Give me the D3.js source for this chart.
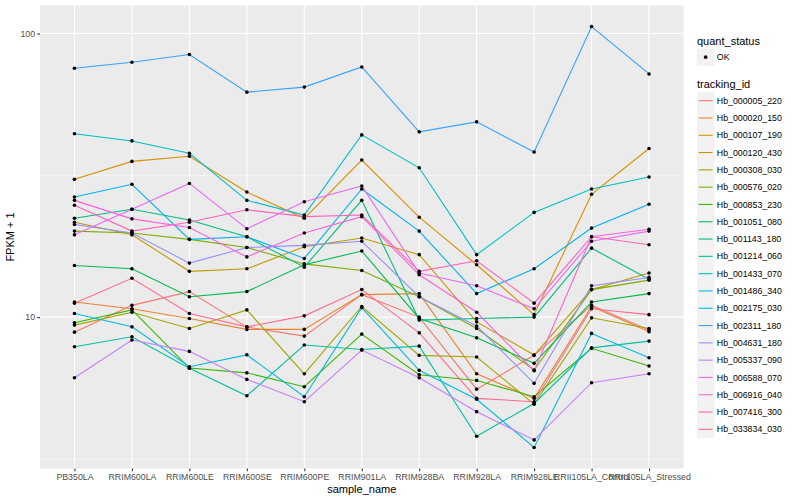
<!DOCTYPE html>
<html>
<head>
<meta charset="utf-8">
<script src="https://cdn.jsdelivr.net/npm/d3@7/dist/d3.min.js"></script>
<style>
  body { margin: 0; background: #fff; }
  text { font-family: "Liberation Sans", Arial, Helvetica, sans-serif; }
</style>
</head>
<body>
<div id="chart"></div>
<script>
var samples = ["PB350LA", "RRIM600LA", "RRIM600LE", "RRIM600SE", "RRIM600PE",
  "RRIM901LA", "RRIM928BA", "RRIM928LA", "RRIM928LE", "RRII105LA_Control", "RRII105LA_Stressed"];

var trackingIds = ["Hb_000005_220", "Hb_000020_150", "Hb_000107_190", "Hb_000120_430",
  "Hb_000308_030", "Hb_000576_020", "Hb_000853_230", "Hb_001051_080", "Hb_001143_180",
  "Hb_001214_060", "Hb_001433_070", "Hb_001486_340", "Hb_002175_030", "Hb_002311_180",
  "Hb_004631_180", "Hb_005337_090", "Hb_006588_070", "Hb_006916_040", "Hb_007416_300",
  "Hb_033834_030"];

// FPKM + 1, one array per tracking id, in sample order
var hb000005_220 = [8.85, 11.0, 12.3, 9.22, 8.57, 12.0, 10.0, 5.57, 7.33, 11.0, 9.00];
var hb000020_150 = [11.3, 10.7, 9.89, 9.05, 9.05, 12.0, 12.1, 6.31, 5.17, 10.9, 8.88];
var hb000107_190 = [30.6, 35.4, 36.9, 27.6, 22.3, 35.8, 22.5, 15.3, 10.2, 27.1, 39.3];
var hb000120_430 = [21.6, 19.5, 14.5, 14.8, 17.7, 19.0, 16.6, 9.62, 7.35, 12.5, 14.3];
var hb000308_030 = [9.37, 10.4, 9.12, 10.6, 6.31, 10.9, 7.33, 7.23, 4.93, 9.94, 9.12];
var hb000576_020 = [20.1, 19.8, 18.8, 17.6, 15.4, 14.6, 11.8, 9.12, 6.51, 12.5, 13.5];
var hb000853_230 = [9.55, 10.6, 6.61, 6.36, 5.68, 8.71, 6.26, 5.98, 5.24, 7.76, 6.72];
var hb001051_080 = [15.2, 14.8, 11.8, 12.3, 15.3, 17.1, 9.89, 8.45, 6.87, 11.3, 12.1];
var hb001143_180 = [22.3, 24.0, 22.0, 19.2, 15.0, 25.8, 9.76, 9.89, 10.0, 17.5, 13.6];
var hb001214_060 = [7.86, 8.52, 6.60, 5.28, 7.97, 7.69, 7.90, 3.80, 4.96, 7.79, 8.23];
var hb001433_070 = [44.3, 41.8, 37.8, 25.8, 22.9, 43.9, 33.6, 16.6, 23.4, 28.3, 31.2];
var hb001486_340 = [10.3, 9.24, 6.68, 7.36, 5.24, 10.8, 6.49, 5.13, 3.47, 8.76, 7.19];
var hb002175_030 = [26.5, 29.4, 18.8, 19.2, 16.1, 28.3, 20.1, 12.1, 14.8, 20.6, 25.0];
var hb002311_180 = [75.4, 79.2, 84.3, 62.1, 64.7, 76.2, 45.0, 48.8, 38.2, 105.8, 72.0];
var hb004631_180 = [21.2, 19.8, 15.5, 17.6, 17.9, 18.5, 11.8, 9.30, 5.84, 12.9, 13.8];
var hb005337_090 = [6.11, 8.30, 7.57, 6.03, 5.03, 7.65, 6.11, 4.64, 3.69, 5.87, 6.31];
var hb006588_070 = [19.5, 24.0, 29.6, 20.5, 25.5, 29.0, 14.3, 12.9, 10.7, 18.5, 20.1];
var hb006916_040 = [25.8, 22.2, 20.7, 16.3, 19.8, 22.6, 14.1, 10.4, 6.47, 19.2, 20.4];
var hb007416_300 = [24.8, 20.1, 21.6, 23.9, 22.6, 22.9, 14.5, 15.8, 11.2, 19.2, 18.0];
var hb033834_030 = [11.2, 13.7, 10.3, 9.24, 10.1, 12.5, 8.80, 5.17, 5.03, 10.7, 10.2];

var seriesValues = [hb000005_220, hb000020_150, hb000107_190, hb000120_430, hb000308_030,
  hb000576_020, hb000853_230, hb001051_080, hb001143_180, hb001214_060, hb001433_070,
  hb001486_340, hb002175_030, hb002311_180, hb004631_180, hb005337_090, hb006588_070,
  hb006916_040, hb007416_300, hb033834_030];

var yTicks = [10, 100];
var yMinor = [Math.pow(10, 0.5), Math.pow(10, 1.5)];
var quantStatus = ["OK"];

var colors = ["#F8766D", "#EA8331", "#D89000", "#C09B00", "#A3A500", "#7CAE00", "#39B600",
  "#00BB4E", "#00BF7D", "#00C1A3", "#00BFC4", "#00BAE0", "#00B0F6", "#35A2FF", "#9590FF",
  "#C77CFF", "#E76BF3", "#FA62DB", "#FF62BC", "#FF6C91"];

var W = 800, H = 500;
var panel = {left: 40, right: 683.5, top: 5.5, bottom: 468.5};

var series = trackingIds.map(function(id, i) {
  return {id: id, color: colors[i], values: seriesValues[i].map(function(v, j) {
    return {sample: samples[j], value: v};
  })};
});

var svg = d3.select("#chart").append("svg")
  .attr("width", W)
  .attr("height", H);

svg.append("rect").attr("width", W).attr("height", H).attr("fill", "#fff");

var x = d3.scalePoint()
  .domain(samples)
  .range([panel.left, panel.right])
  .padding(0.6);

var allVals = d3.merge(seriesValues);
var lo = Math.log10(d3.min(allVals)), hi = Math.log10(d3.max(allVals));
var pad = (hi - lo) * 0.05;
var y = d3.scaleLog()
  .domain([Math.pow(10, lo - pad), Math.pow(10, hi + pad)])
  .range([panel.bottom, panel.top]);

// panel background and grid
svg.append("rect")
  .attr("x", panel.left).attr("y", panel.top)
  .attr("width", panel.right - panel.left)
  .attr("height", panel.bottom - panel.top)
  .attr("fill", "#EBEBEB");

var grid = svg.append("g").attr("class", "grid");
grid.selectAll("line.minor")
  .data(yMinor)
  .enter().append("line")
    .attr("class", "minor")
    .attr("x1", panel.left).attr("x2", panel.right)
    .attr("y1", function(d) { return y(d); })
    .attr("y2", function(d) { return y(d); })
    .attr("stroke", "#fff").attr("stroke-width", 0.55);
grid.selectAll("line.majory")
  .data(yTicks)
  .enter().append("line")
    .attr("class", "majory")
    .attr("x1", panel.left).attr("x2", panel.right)
    .attr("y1", function(d) { return y(d); })
    .attr("y2", function(d) { return y(d); })
    .attr("stroke", "#fff").attr("stroke-width", 1.1);
grid.selectAll("line.majorx")
  .data(samples)
  .enter().append("line")
    .attr("class", "majorx")
    .attr("y1", panel.top).attr("y2", panel.bottom)
    .attr("x1", function(d) { return x(d); })
    .attr("x2", function(d) { return x(d); })
    .attr("stroke", "#fff").attr("stroke-width", 1.1);

// lines
var line = d3.line()
  .x(function(d) { return x(d.sample); })
  .y(function(d) { return y(d.value); });

svg.append("g").attr("class", "lines")
  .selectAll("path")
  .data(series)
  .enter().append("path")
    .attr("d", function(d) { return line(d.values); })
    .attr("fill", "none")
    .attr("stroke", function(d) { return d.color; })
    .attr("stroke-width", 1.1);

// points
svg.append("g").attr("class", "points")
  .selectAll("circle")
  .data(d3.merge(series.map(function(s) { return s.values; })))
  .enter().append("circle")
    .attr("cx", function(d) { return x(d.sample); })
    .attr("cy", function(d) { return y(d.value); })
    .attr("r", 1.8)
    .attr("fill", "#000");

// axes
var yAxis = d3.axisLeft(y)
  .tickValues(yTicks)
  .tickFormat(d3.format("d"))
  .tickSize(2.75)
  .tickPadding(2.2);
var gy = svg.append("g")
  .attr("transform", "translate(" + panel.left + ",0)")
  .call(yAxis);

var xAxis = d3.axisBottom(x)
  .tickSize(2.75)
  .tickPadding(2.2);
var gx = svg.append("g")
  .attr("transform", "translate(0," + panel.bottom + ")")
  .call(xAxis);

[gx, gy].forEach(function(g) {
  g.select(".domain").remove();
  g.selectAll(".tick line").attr("stroke", "#333").attr("stroke-width", 1.07);
  g.selectAll(".tick text")
    .attr("fill", "#4D4D4D")
    .style("font-size", "8.8px")
    .style("font-family", "'Liberation Sans', Arial, sans-serif");
});

svg.append("text")
  .attr("x", (panel.left + panel.right) / 2)
  .attr("y", 493)
  .attr("text-anchor", "middle")
  .style("font-size", "11px")
  .text("sample_name");

svg.append("text")
  .attr("transform", "translate(14," + ((panel.top + panel.bottom) / 2) + ") rotate(-90)")
  .attr("text-anchor", "middle")
  .style("font-size", "11px")
  .text("FPKM + 1");

// legends
var lg = svg.append("g").attr("transform", "translate(697,0)");
var keySize = 17.3;

lg.append("text").attr("x", 0).attr("y", 44.5)
  .style("font-size", "11px").text("quant_status");
quantStatus.forEach(function(q, i) {
  var ky = 48.5 + i * keySize;
  lg.append("rect").attr("x", 0).attr("y", ky)
    .attr("width", keySize).attr("height", keySize).attr("fill", "#F2F2F2");
  lg.append("circle").attr("cx", keySize / 2).attr("cy", ky + keySize / 2)
    .attr("r", 1.8).attr("fill", "#000");
  lg.append("text").attr("x", keySize + 2.5).attr("y", ky + keySize / 2 + 3.1)
    .style("font-size", "8.8px").text(q);
});

lg.append("text").attr("x", 0).attr("y", 88.2)
  .style("font-size", "11px").text("tracking_id");

var keys = lg.selectAll("g.key")
  .data(series)
  .enter().append("g")
    .attr("class", "key")
    .attr("transform", function(d, i) { return "translate(0," + (92 + i * keySize) + ")"; });
keys.append("rect")
  .attr("width", keySize).attr("height", keySize).attr("fill", "#F2F2F2");
keys.append("line")
  .attr("x1", 1.7).attr("x2", keySize - 1.7)
  .attr("y1", keySize / 2).attr("y2", keySize / 2)
  .attr("stroke", function(d) { return d.color; })
  .attr("stroke-width", 1.1);
keys.append("text")
  .attr("x", keySize + 2.5).attr("y", keySize / 2 + 3.1)
  .style("font-size", "8.8px")
  .text(function(d) { return d.id; });
</script>
</body>
</html>
